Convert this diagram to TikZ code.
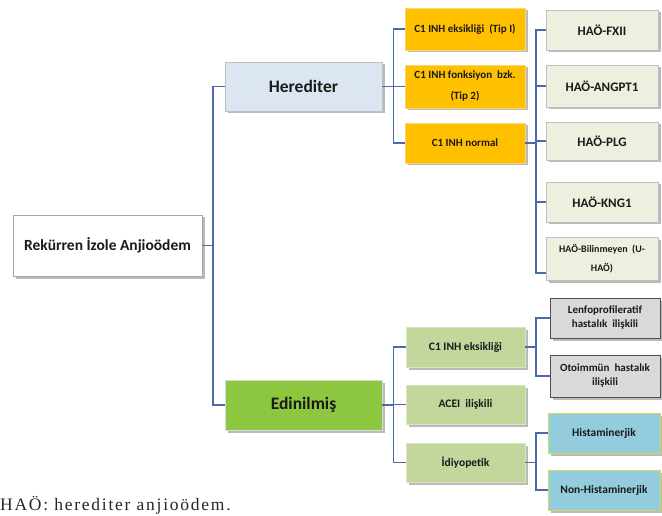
\documentclass[tikz,border=0pt]{standalone}
\usepackage{fontspec}
\newfontfamily\cf{Carlito}
\newfontfamily\capf[LetterSpace=10]{Liberation Serif}
\usetikzlibrary{shadows,calc}
\definecolor{conncol}{HTML}{4A6AA8}
\definecolor{herfill}{HTML}{DCE6F2}
\definecolor{edifill}{HTML}{8DC63F}
\definecolor{orfill}{HTML}{FFC000}
\definecolor{orline}{HTML}{F5D77A}
\definecolor{haofill}{HTML}{EBF1DE}
\definecolor{gsfill}{HTML}{C3D69B}
\definecolor{gsline}{HTML}{D8E6C0}
\definecolor{greyfill}{HTML}{D9D9D9}
\definecolor{greyline}{HTML}{505050}
\definecolor{bluefill}{HTML}{93CDDD}
\definecolor{blueline}{HTML}{CFDC5A}
\definecolor{txt}{HTML}{1A1A1A}
\tikzset{
  box/.style={draw, line width=0.8pt, inner sep=1pt, align=center, text=txt,
    drop shadow={shadow xshift=2.5pt, shadow yshift=-2.5pt, opacity=0.45, fill=black!60}},
  conn/.style={draw=conncol, line width=1.1pt},
  rootbox/.style={box, draw=black!35, fill=white, minimum width=189pt, minimum height=61pt, font=\cf\bfseries\fontsize{15.5}{18}\selectfont},
  mainbox/.style={box, minimum width=157pt, minimum height=49pt, font=\cf\bfseries\fontsize{17.5}{20}\selectfont},
  orbox/.style={box, draw=orline, fill=orfill, minimum width=120pt, font=\cf\bfseries\fontsize{11}{21}\selectfont},
  haobox/.style={box, draw=black!25, fill=haofill, minimum width=112pt, font=\cf\bfseries\fontsize{13}{16}\selectfont},
  gsbox/.style={box, draw=gsline, fill=gsfill, minimum width=119pt, font=\cf\bfseries\fontsize{11.5}{14}\selectfont},
  greybox/.style={box, draw=greyline, fill=greyfill, minimum width=110pt, font=\cf\bfseries\fontsize{11}{14}\selectfont},
  bluebox/.style={box, draw=blueline, fill=bluefill, minimum width=112pt, font=\cf\bfseries\fontsize{11.5}{14}\selectfont}
}
\begin{document}
\begin{tikzpicture}[x=1pt,y=-1pt]
\useasboundingbox (0,0) rectangle (662,516);
% nodes
\node[rootbox] (root) at (107.5,245.5) {Rekürren İzole Anjioödem};
\node[mainbox, draw=black!25, fill=herfill] (her) at (303.5,86.5) {Herediter};
\node[mainbox, draw=white!85!black, fill=edifill, minimum height=50pt] (edi) at (303.5,405) {Edinilmiş};
\node[orbox, minimum height=42pt] (o1) at (465,29) {C1 INH eksikliği \ (Tip I)};
\node[orbox, minimum height=43pt] (o2) at (465,86.5) {C1 INH fonksiyon \ bzk.\\(Tip 2)};
\node[orbox, minimum height=40pt] (o3) at (465,143) {C1 INH normal};
\node[haobox, minimum height=40pt] (h1) at (602,30) {HAÖ-FXII};
\node[haobox, minimum height=42pt] (h2) at (602,86) {HAÖ-ANGPT1};
\node[haobox, minimum height=38pt] (h3) at (602,141) {HAÖ-PLG};
\node[haobox, minimum height=40pt] (h4) at (602,202) {HAÖ-KNG1};
\node[haobox, minimum height=43pt, font=\cf\bfseries\fontsize{10}{19}\selectfont] (h5) at (602,259) {HAÖ-Bilinmeyen \ (U-\\HAÖ)};
\node[gsbox, minimum height=40pt] (g1) at (465.5,347) {C1 INH eksikliği};
\node[gsbox, minimum height=39pt] (g2) at (465.5,404.5) {ACEI \ ilişkili};
\node[gsbox, minimum height=39pt] (g3) at (465.5,462.5) {İdiyopetik};
\node[greybox, minimum height=40pt] (r1) at (605,318) {Lenfoprofileratif\\hastalık \ ilişkili};
\node[greybox, minimum height=42pt] (r2) at (605,376) {Otoimmün \ hastalık\\ilişkili};
\node[bluebox, minimum height=40pt] (b1) at (604,433) {Histaminerjik};
\node[bluebox, minimum height=40pt] (b2) at (604,490) {Non-Histaminerjik};
\node[anchor=base west, inner sep=0pt, font=\capf\fontsize{17.5}{20}\selectfont, text=black!85] (cap) at (0,510.5) {HAÖ: herediter anjioödem.};
% bracket coordinates
\coordinate (k1) at (213,0);
\coordinate (k2) at (393.5,0);
\coordinate (k3) at (536,0);
% root bracket
\draw[conn] (root.east) -- (root.east -| k1);
\draw[conn] (her.west) -- (her.west -| k1) -- (edi.west -| k1) -- (edi.west);
% herediter bracket
\draw[conn] (her.east) -- (her.east -| k2);
\draw[conn] (o1.west) -- (o1.west -| k2) -- (o3.west -| k2) -- (o3.west);
\draw[conn] (o2.west) -- (o2.west -| k2);
% C1 INH normal bracket
\coordinate (h5c) at ($(h5.west)+(0,14)$);
\draw[conn] (o3.east) -- (o3.east -| k3);
\draw[conn] (h1.west) -- (h1.west -| k3) -- (h5c -| k3) -- (h5c);
\draw[conn] (h2.west) -- (h2.west -| k3);
\draw[conn] (h3.west) -- (h3.west -| k3);
\draw[conn] (h4.west) -- (h4.west -| k3);
% edinilmis bracket
\draw[conn] (edi.east) -- (edi.east -| k2);
\draw[conn] (g1.west) -- (g1.west -| k2) -- (g3.west -| k2) -- (g3.west);
\draw[conn] (g2.west) -- (g2.west -| k2);
% C1 INH eksikligi bracket
\draw[conn] (g1.east) -- (g1.east -| k3);
\draw[conn] (r1.west) -- (r1.west -| k3) -- (r2.west -| k3) -- (r2.west);
% idiyopetik bracket
\draw[conn] (g3.east) -- (g3.east -| k3);
\draw[conn] (b1.west) -- (b1.west -| k3) -- (b2.west -| k3) -- (b2.west);
\end{tikzpicture}
\end{document}
